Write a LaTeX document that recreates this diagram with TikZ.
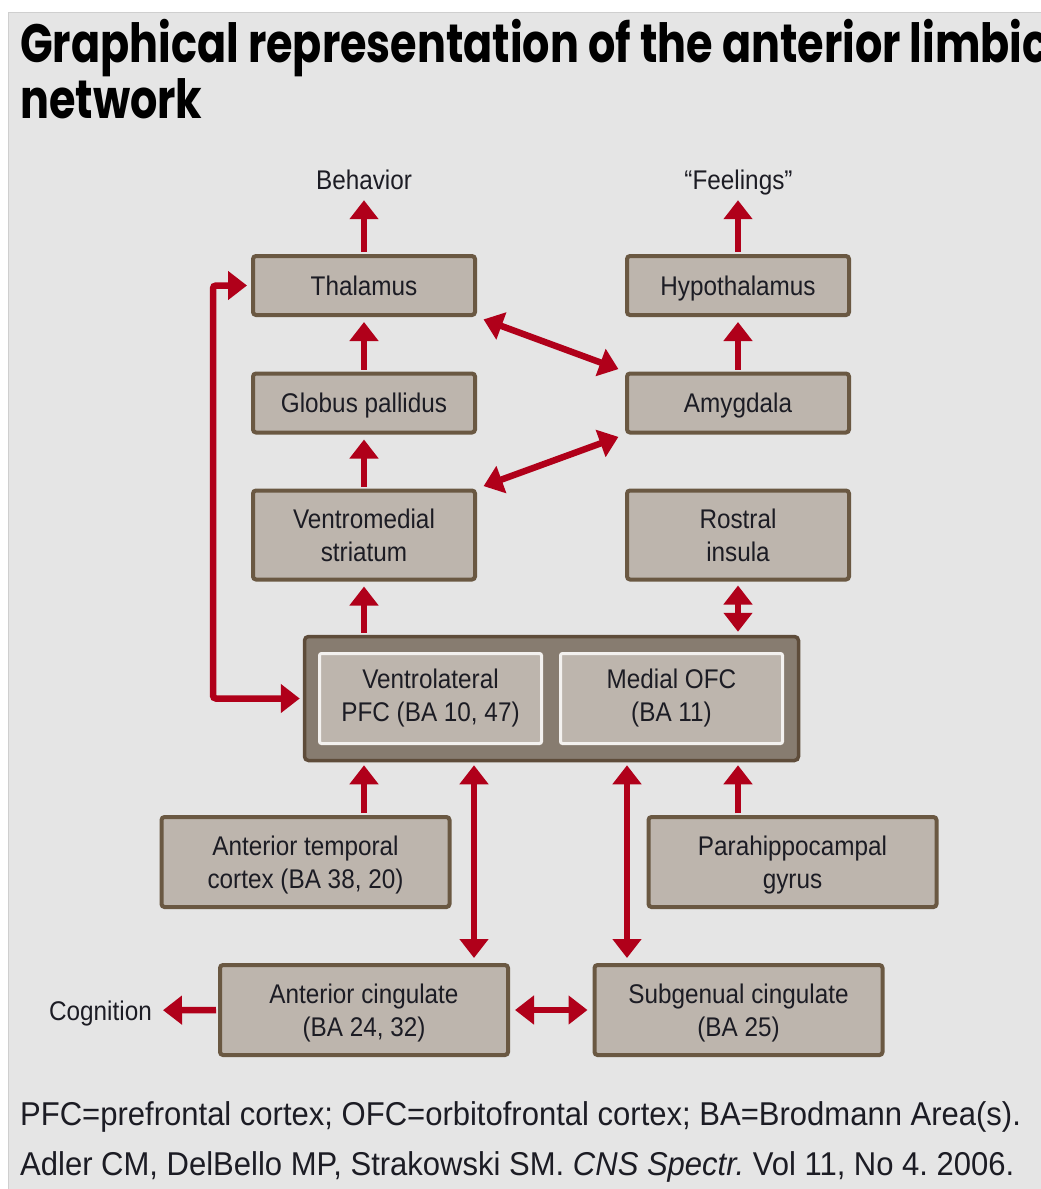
\documentclass[tikz,border=0pt]{standalone}
\usepackage{fontspec}
\setmainfont{Liberation Sans}[FakeStretch=0.9]
\newfontfamily\titlefont{Poppins}[FakeStretch=0.795]
\newfontfamily\notefont{Liberation Sans}[FakeStretch=0.94]
\usetikzlibrary{arrows.meta,calc}
\definecolor{bg}{HTML}{E5E5E5}
\definecolor{bgline}{HTML}{CFCFCF}
\definecolor{boxfill}{HTML}{BDB5AD}
\definecolor{boxline}{HTML}{6A5842}
\definecolor{outerfill}{HTML}{877C70}
\definecolor{outerline}{HTML}{5E4C3A}
\definecolor{innerline}{HTML}{F3F1EF}
\definecolor{myred}{HTML}{B0001A}
\definecolor{ink}{HTML}{1C1C24}
\frenchspacing
\begin{document}
\begin{tikzpicture}[x=1pt,y=-1pt,
  box/.style={draw=boxline, fill=boxfill, line width=4pt, rounded corners=3pt,
    minimum width=222pt, minimum height=59pt, align=center, inner sep=0pt,
    text=ink, font=\fontsize{27}{33}\selectfont},
  onebox/.style={box, text height=25pt, text depth=5.6pt},
  tallbox/.style={box, minimum height=89pt},
  widebox/.style={box, minimum width=288pt, minimum height=90pt},
  outerbox/.style={draw=outerline, fill=outerfill, line width=3.5pt, rounded corners=4pt,
    minimum width=494pt, minimum height=124pt, inner sep=0pt},
  innerbox/.style={draw=innerline, fill=boxfill, line width=3pt, rounded corners=2pt,
    minimum width=222pt, minimum height=90pt, align=center, inner sep=0pt,
    text=ink, font=\fontsize{27}{33}\selectfont},
  lbl/.style={inner sep=0pt, text depth=0pt, text=ink, font=\fontsize{27}{33}\selectfont},
  tip/.tip={Triangle[length=19pt,width=28pt]},
  arr/.style={draw=myred, line width=6.5pt, -tip, shorten >=5pt, shorten <=2pt},
  dbl/.style={draw=myred, line width=6.5pt, tip-tip, shorten >=5pt, shorten <=5pt},
]
\useasboundingbox (0,0) rectangle (1041,1189);
\fill[white] (0,0) rectangle (1041,1189);
\draw[fill=bg, draw=bgline, line width=1pt] (8,12) rectangle (1050,1200);

% title
\begin{scope}
\clip (0,0) rectangle (1041,1189);
\node[anchor=base west, inner sep=0pt, text=black] (title1) at (20,62)
  {\titlefont\bfseries\fontsize{54}{56}\selectfont Graphical representation of the anterior limbic};
\node[anchor=base west, inner sep=0pt, text=black] (title2) at (20,118)
  {\titlefont\bfseries\fontsize{54}{56}\selectfont network};
\end{scope}

% labels
\node[lbl, anchor=base] (beh) at (364,189) {Behavior};
\node[lbl, anchor=base] (feel) at (738.5,189) {“Feelings”};
\node[lbl, anchor=base east] (cog) at (152,1020) {Cognition};

% boxes
\node[onebox] (thal) at (364,285.5) {Thalamus};
\node[onebox] (hyp) at (738,285.5) {Hypothalamus};
\node[onebox] (glob) at (364,403) {Globus pallidus};
\node[onebox] (amyg) at (738,403) {Amygdala};
\node[tallbox] (vms) at (364,535) {Ventromedial\\striatum};
\node[tallbox] (ri) at (738,535) {Rostral\\insula};
\node[outerbox] (outer) at (551.5,698.5) {};
\node[innerbox] (vlpfc) at (430.5,698.5) {Ventrolateral\\PFC (BA 10, 47)};
\node[innerbox] (mofc) at (671.5,698.5) {Medial OFC\\(BA 11)};
\node[widebox] (atc) at (305.5,862) {\rule{0pt}{25pt}Anterior temporal\\cortex (BA 38, 20)};
\node[widebox] (para) at (792.5,862) {\rule{0pt}{25pt}Parahippocampal\\gyrus};
\node[widebox] (ac) at (364,1010) {\rule{0pt}{25pt}Anterior cingulate\\(BA 24, 32)};
\node[widebox] (sg) at (738.5,1010) {\rule{0pt}{25pt}Subgenual cingulate\\(BA 25)};

\coordinate (xa) at (474,0);
\coordinate (xb) at (627,0);
\coordinate (xl) at (213,0);

% connectors
\draw[arr, shorten >=11pt] (thal.north) -- (beh.south);
\draw[arr, shorten >=11pt] (hyp.north) -- (hyp |- feel.south);
\draw[arr] (glob.north) -- (thal.south);
\draw[arr] (amyg.north) -- (hyp.south);
\draw[arr] (vms.north) -- (glob.south);
\draw[dbl, shorten >=7pt, shorten <=7pt] (thal.south east) -- (amyg.north west);
\draw[dbl, shorten >=7pt, shorten <=7pt] (vms.north east) -- (amyg.south west);
\draw[arr] (thal |- outer.north) -- (vms.south);
\draw[dbl, shorten <=4pt, shorten >=3pt] (ri.south) -- (ri.south |- outer.north);
\draw[dbl, rounded corners=3pt, shorten <=4pt, shorten >=3pt] (thal.west) -- (thal.west -| xl) -- (xl |- outer.west) -- (outer.west);
\draw[arr, shorten >=3pt] (thal |- atc.north) -- (thal |- outer.south);
\draw[arr, shorten >=3pt] (hyp |- para.north) -- (hyp |- outer.south);
\draw[dbl, shorten <=3pt] (xa |- outer.south) -- (xa |- ac.north);
\draw[dbl, shorten <=3pt] (xb |- outer.south) -- (xb |- sg.north);
\draw[arr, shorten >=11pt] (ac.west) -- (cog.east);
\draw[dbl] (ac.east) -- (sg.west);

% notes
\node[anchor=base west, inner sep=0pt, text=ink] (note1) at (20,1125)
  {\notefont\fontsize{33}{36}\selectfont PFC=prefrontal cortex; OFC=orbitofrontal cortex; BA=Brodmann Area(s).};
\node[anchor=base west, inner sep=0pt, text=ink] (note2) at (20,1175)
  {\notefont\fontsize{33}{36}\selectfont Adler CM, DelBello MP, Strakowski SM. \textit{CNS Spectr.}\ Vol 11, No 4. 2006.};
\end{tikzpicture}
\end{document}
